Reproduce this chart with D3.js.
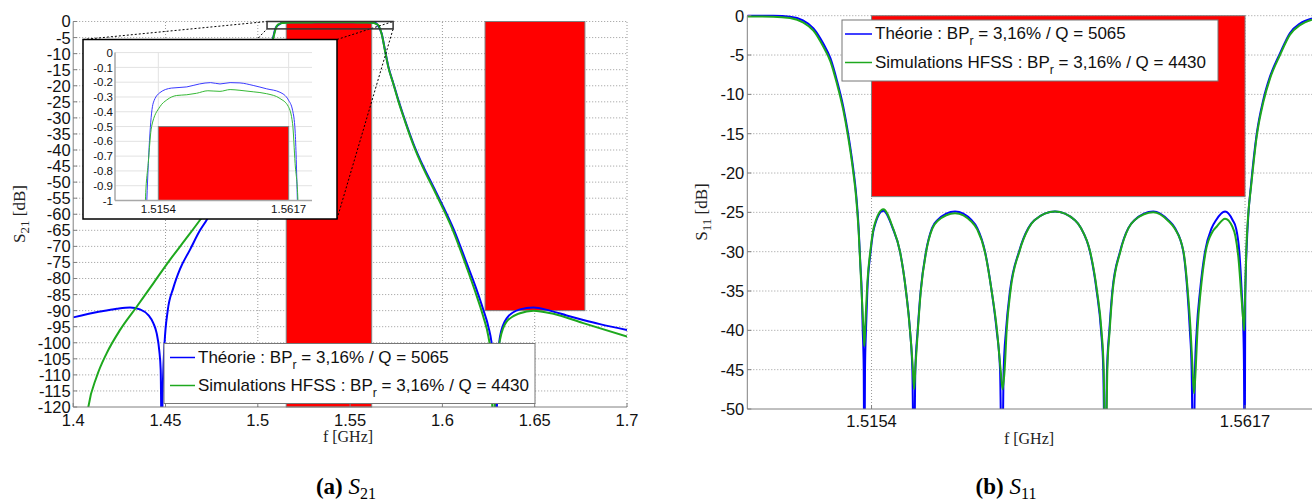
<!DOCTYPE html>
<html><head><meta charset="utf-8">
<script src="https://cdn.jsdelivr.net/npm/d3@7"></script>
<style>body{margin:0;background:#fff}svg{display:block}</style>
</head><body>
<svg id="c" width="1312" height="504"></svg>
<script>
// ---------------- DATA ----------------
const s21XTicks = [1.4, 1.45, 1.5, 1.55, 1.6, 1.65, 1.7];
const s21YTicks = [0,-5,-10,-15,-20,-25,-30,-35,-40,-45,-50,-55,-60,-65,-70,-75,-80,-85,-90,-95,-100,-105,-110,-115,-120];
const insetXTicks = [1.5154, 1.5617];
const insetYTicks = [0,-0.1,-0.2,-0.3,-0.4,-0.5,-0.6,-0.7,-0.8,-0.9,-1];
const s11XTicks = [1.5154, 1.5617];
const s11YTicks = [0,-5,-10,-15,-20,-25,-30,-35,-40,-45,-50];

// masks: [fStart, fEnd, dBtop, dBbottom]
const s21Masks = [[1.5154, 1.5617, 0, -120], [1.6231, 1.6772, 0, -90]];
const insetMask = [1.5154, 1.5617, -0.5, -1];
const s11Mask = [1.5154, 1.5617, 0, -23];
const zoomBox = [1.505, 1.5733, 0, -2.3];

const legendTheory = ["Théorie : BP", "r", " = 3,16% / Q = 5065"];
const legendHfss = ["Simulations HFSS : BP", "r", " = 3,16% / Q = 4430"];

// S21 theory [f GHz, dB]
const s21Theory = [
 [1.400,-92.1],[1.4145,-90.3],[1.4236,-89.4],[1.4308,-89.0],[1.4362,-89.6],[1.4407,-91.4],
 [1.4434,-93.9],[1.4452,-97.0],[1.4466,-102.3],[1.4474,-108.5],[1.4479,-130],[1.4486,-112],
 [1.4495,-100],[1.4512,-90],[1.4542,-83],[1.4579,-77],[1.4633,-71],[1.4687,-65],[1.4723,-61.8],
 [1.480,-54],[1.490,-42],[1.500,-26],[1.505,-13],[1.5083,-5],[1.5097,-2],[1.5113,-1.0],
 [1.5124,-0.55],[1.5136,-0.34],[1.5160,-0.27],[1.5200,-0.24],[1.5255,-0.232],[1.5300,-0.212],
 [1.5340,-0.203],[1.5373,-0.212],[1.5409,-0.203],[1.5444,-0.205],[1.5491,-0.222],[1.5539,-0.245],
 [1.5586,-0.268],[1.5616,-0.32],[1.5631,-0.39],[1.5640,-0.53],[1.5648,-1.0],[1.5671,-3.7],
 [1.5689,-8.9],[1.5707,-14.0],[1.5734,-19.2],[1.5761,-24.4],[1.5797,-30.7],[1.5842,-37.9],
 [1.5897,-45.2],[1.5951,-51.4],[1.6005,-57.7],[1.6059,-64.4],[1.6132,-75.3],[1.6186,-83.6],
 [1.6222,-89.8],[1.6249,-95.0],[1.6267,-100.2],[1.6280,-108],[1.6290,-130],[1.6300,-108],
 [1.6312,-98.1],[1.6348,-92.4],[1.6420,-89.6],[1.6493,-89.0],[1.6582,-90.0],[1.6673,-91.5],
 [1.6763,-92.9],[1.6853,-94.2],[1.700,-96.0]
];
// S21 HFSS simulation
const s21Hfss = [
 [1.4060,-130],[1.4082,-120],[1.4127,-110.6],[1.4181,-103.3],[1.4254,-96.0],[1.4344,-88.8],
 [1.4434,-81.5],[1.4524,-74.2],[1.4606,-68.0],[1.4687,-61.8],[1.480,-52.5],[1.490,-41.5],
 [1.500,-25.5],[1.505,-13],[1.5083,-5.3],[1.5097,-2.2],[1.5108,-1.0],[1.5118,-0.75],[1.5130,-0.5],
 [1.5160,-0.365],[1.5184,-0.32],[1.5219,-0.29],[1.5255,-0.285],[1.5290,-0.275],[1.5330,-0.258],
 [1.5373,-0.262],[1.5409,-0.25],[1.5444,-0.255],[1.5491,-0.265],[1.5539,-0.278],[1.5586,-0.31],
 [1.5616,-0.365],[1.5631,-0.48],[1.5640,-0.75],[1.5650,-1.0],[1.5671,-3.9],[1.5689,-9.1],
 [1.5707,-14.2],[1.5734,-19.4],[1.5761,-24.7],[1.5797,-31.0],[1.5842,-38.3],[1.5897,-45.7],
 [1.5951,-52.0],[1.6005,-58.4],[1.6059,-65.3],[1.6132,-76.6],[1.6186,-85.5],[1.6222,-92.0],
 [1.6249,-98.0],[1.6263,-104],[1.6276,-130],[1.6290,-108],[1.6312,-99.1],[1.6348,-93.4],
 [1.6420,-90.8],[1.6493,-90.0],[1.6601,-91.0],[1.6763,-93.9],[1.700,-98.1]
];
// S11 theory
const s11Theory = [
 [1.5000,0.0],[1.5032,-0.02],[1.5053,-0.13],[1.5069,-0.6],[1.5082,-1.6],[1.5094,-3.5],
 [1.5103,-5.4],[1.5111,-8.2],[1.5119,-11.6],[1.5125,-15.0],[1.5131,-19.2],[1.5135,-22.8],
 [1.5138,-27.0],[1.5140,-31.3],[1.5142,-35.5],[1.5143,-39.7],[1.51443,-44.8],[1.51451,-60],
 [1.51459,-45],[1.51471,-40],[1.51488,-35],[1.51529,-30],[1.51571,-27],[1.51686,-24.8],
 [1.51802,-27],[1.51893,-30],[1.51967,-35],[1.52017,-40],[1.52046,-45],[1.52066,-60],
 [1.52083,-45],[1.52112,-40],[1.52149,-35],[1.52215,-30],[1.52290,-27],[1.52356,-26],
 [1.52575,-24.9],[1.52781,-26],[1.52851,-27],[1.52947,-30],[1.53029,-35],[1.53091,-40],
 [1.53133,-45],[1.53157,-60],[1.53178,-45],[1.53207,-40],[1.53256,-35],[1.53368,-30],
 [1.53484,-27],[1.53558,-26],[1.53814,-24.9],[1.54062,-26],[1.54136,-27],[1.54248,-30],
 [1.54331,-35],[1.54385,-40],[1.54413,-45],[1.54434,-60],[1.54459,-45],[1.54488,-40],
 [1.54525,-35],[1.54620,-30],[1.54723,-27],[1.54798,-26],[1.55033,-24.9],[1.55219,-26],
 [1.55301,-27],[1.55405,-30],[1.55455,-35],[1.55486,-40],[1.55508,-45],[1.55529,-60],
 [1.55550,-45],[1.55571,-40],[1.55612,-35],[1.55674,-30],[1.55756,-27],[1.55810,-26],
 [1.55922,-24.9],[1.56017,-26],[1.56058,-27],[1.56099,-30],[1.56128,-35],[1.56149,-40],
 [1.56157,-45],[1.56165,-60],[1.56173,-35.5],[1.56191,-29.2],[1.56213,-25],[1.56244,-21.5],
 [1.56315,-15],[1.56396,-10.7],[1.56479,-7.75],[1.56603,-4.8],[1.56727,-2.2],[1.56851,-1.0],
 [1.5700,-0.35]
];
// S11 HFSS simulation
const s11Hfss = [
 [1.5000,-0.1],[1.5032,-0.12],[1.5053,-0.3],[1.5069,-0.85],[1.5082,-1.9],[1.5094,-3.9],
 [1.5103,-5.8],[1.5111,-8.6],[1.5119,-12.0],[1.5125,-15.4],[1.5131,-19.6],[1.5135,-23.2],
 [1.5138,-27.4],[1.5140,-31.5],[1.5142,-35.8],[1.51443,-40.5],[1.51451,-42],[1.51459,-40.5],
 [1.51471,-37.5],[1.51488,-34],[1.51529,-29.6],[1.51571,-26.8],[1.51686,-24.6],[1.51802,-26.9],
 [1.51893,-30],[1.51967,-35],[1.52017,-40],[1.52050,-44.5],[1.52068,-47.5],[1.52085,-44.5],
 [1.52114,-40],[1.52151,-35],[1.52217,-30],[1.52292,-27.1],[1.52358,-26.1],[1.52575,-25.1],
 [1.52781,-26.2],[1.52851,-27.2],[1.52947,-30.1],[1.53029,-35],[1.53095,-40],[1.53140,-45],
 [1.53165,-47.5],[1.53190,-45],[1.53215,-40],[1.53262,-35],[1.53372,-30],[1.53488,-27],
 [1.53560,-26],[1.53814,-24.9],[1.54062,-26],[1.54136,-27],[1.54250,-30],[1.54335,-35],
 [1.54390,-40],[1.54418,-45],[1.54440,-60],[1.54463,-45],[1.54492,-40],[1.54529,-35],
 [1.54624,-30],[1.54725,-27],[1.54800,-26],[1.55033,-25.0],[1.55219,-26.1],[1.55301,-27.1],
 [1.55407,-30],[1.55460,-35],[1.55495,-40],[1.55520,-45],[1.55538,-48],[1.55558,-45],
 [1.55580,-40],[1.55620,-35],[1.55682,-30],[1.55765,-27.5],[1.55820,-26.8],[1.55922,-25.8],
 [1.56012,-26.8],[1.56050,-28],[1.56090,-31],[1.56120,-35],[1.56150,-39],[1.56160,-40],
 [1.56170,-36],[1.56185,-30],[1.56210,-25.2],[1.56244,-21.8],[1.56315,-15.3],[1.56396,-11],
 [1.56479,-8],[1.56603,-5],[1.56727,-2.4],[1.56851,-1.2],[1.5700,-0.5]
];

// ---------------- DRAWING ----------------
const SANS = "'Liberation Sans', Arial, sans-serif";
const SERIF = "'Liberation Serif', 'Times New Roman', serif";
const BLUE = "#0000ff", GREEN = "#1ea81e", RED = "#ff0000";
const GRID = "#9a9a9a", AXIS = "#808080";
const svg = d3.select("#c");
const defs = svg.append("defs");

function clip(id, x, y, w, h) {
  defs.append("clipPath").attr("id", id).append("rect").attr("x", x).attr("y", y).attr("width", w).attr("height", h);
}
function dottedGrid(g, xs, ys, xScale, yScale) {
  const [x0, x1] = xScale.range(), [y0, y1] = yScale.range();
  g.selectAll(null).data(ys).join("line")
    .attr("x1", x0).attr("x2", x1).attr("y1", d => yScale(d)).attr("y2", d => yScale(d))
    .attr("stroke", GRID).attr("stroke-width", 1).attr("stroke-dasharray", "1,2");
  g.selectAll(null).data(xs).join("line")
    .attr("x1", d => xScale(d)).attr("x2", d => xScale(d)).attr("y1", y0).attr("y2", y1)
    .attr("stroke", GRID).attr("stroke-width", 1).attr("stroke-dasharray", "1,2");
}
function maskRect(g, m, xScale, yScale) {
  g.append("rect").attr("x", xScale(m[0])).attr("y", yScale(m[2]))
    .attr("width", xScale(m[1]) - xScale(m[0])).attr("height", yScale(m[3]) - yScale(m[2]))
    .attr("fill", RED).attr("stroke", "#808080").attr("stroke-width", 1);
}
function curve(g, data, xScale, yScale, color, w, clipId) {
  const line = d3.line().x(d => xScale(d[0])).y(d => yScale(d[1])).curve(d3.curveMonotoneX);
  g.append("path").attr("d", line(data)).attr("fill", "none").attr("stroke", color)
    .attr("stroke-width", w).attr("stroke-linejoin", "round").attr("clip-path", `url(#${clipId})`);
}
function axesLines(g, xScale, yScale, xs, ys, color, w, tick) {
  const [x0, x1] = xScale.range(), [y0, y1] = yScale.range();
  g.append("line").attr("x1", x0).attr("x2", x0).attr("y1", y0).attr("y2", y1).attr("stroke", color).attr("stroke-width", w);
  g.append("line").attr("x1", x0).attr("x2", x1).attr("y1", y0).attr("y2", y0).attr("stroke", color).attr("stroke-width", w);
  if (tick) {
    g.selectAll(null).data(xs).join("line").attr("x1", d => xScale(d)).attr("x2", d => xScale(d))
      .attr("y1", y0).attr("y2", y0 - tick).attr("stroke", color);
    g.selectAll(null).data(ys).join("line").attr("y1", d => yScale(d)).attr("y2", d => yScale(d))
      .attr("x1", x0).attr("x2", x0 + tick).attr("stroke", color);
  }
}
function tickLabels(g, xScale, yScale, xs, ys, fs, xfmt, yfmt, yOff, xGap) {
  const [x0] = xScale.range(), [y0] = yScale.range();
  g.selectAll(null).data(ys).join("text").attr("x", x0 - xGap).attr("y", d => yScale(d) + fs * 0.36)
    .attr("text-anchor", "end").attr("font-family", SANS).attr("font-size", fs).attr("fill", "#111").text(yfmt);
  g.selectAll(null).data(xs).join("text").attr("x", d => xScale(d)).attr("y", y0 + yOff)
    .attr("text-anchor", "middle").attr("font-family", SANS).attr("font-size", fs).attr("fill", "#111").text(xfmt);
}
function legend(g, x, y, w, h, rows, lineX0, lineX1, textX, fs) {
  g.append("rect").attr("x", x).attr("y", y).attr("width", w).attr("height", h)
    .attr("fill", "#fff").attr("stroke", "#777").attr("stroke-width", 1);
  rows.forEach(r => {
    g.append("line").attr("x1", lineX0).attr("x2", lineX1).attr("y1", r.y).attr("y2", r.y)
      .attr("stroke", r.color).attr("stroke-width", 1.5);
    const t = g.append("text").attr("x", textX).attr("y", r.y + 5).attr("font-family", SANS)
      .attr("font-size", fs).attr("fill", "#111");
    t.append("tspan").text(r.label[0]);
    t.append("tspan").attr("dy", 6).attr("font-size", fs * 0.72).text(r.label[1]);
    t.append("tspan").attr("dy", -6).text(r.label[2]);
  });
}
function yLabel(g, x, y, sub) {
  const t = g.append("text").attr("transform", `translate(${x},${y}) rotate(-90)`)
    .attr("text-anchor", "middle").attr("font-family", SERIF).attr("font-size", 17).attr("fill", "#222");
  t.append("tspan").text("S");
  t.append("tspan").attr("dy", 4).attr("font-size", 13).text(sub);
  t.append("tspan").attr("dy", -4).text(" [dB]");
}
function xLabel(g, x, y) {
  g.append("text").attr("x", x).attr("y", y).attr("text-anchor", "middle").attr("font-family", SERIF)
    .attr("font-size", 16).attr("fill", "#222").text("f [GHz]");
}
function caption(g, x, y, letter, sub) {
  const t = g.append("text").attr("x", x).attr("y", y).attr("text-anchor", "middle")
    .attr("font-family", SERIF).attr("font-size", 23).attr("fill", "#000");
  t.append("tspan").attr("font-weight", "bold").text(`(${letter}) `);
  t.append("tspan").attr("font-style", "italic").text("S");
  t.append("tspan").attr("dy", 5).attr("font-size", 16).text(sub);
}

// ===== Left panel: S21 =====
const xL = d3.scaleLinear().domain([1.4, 1.7]).range([73.2, 627]);
const yL = d3.scaleLinear().domain([-120, 0]).range([407, 21.5]);
const gL = svg.append("g");
clip("clipL", 73.2, 19, 553.8, 388);
dottedGrid(gL, s21XTicks.slice(1), s21YTicks.slice(0, -1), xL, yL);
s21Masks.forEach(m => maskRect(gL, m, xL, yL));
curve(gL, s21Theory, xL, yL, BLUE, 2, "clipL");
curve(gL, s21Hfss, xL, yL, GREEN, 2, "clipL");
axesLines(gL, xL, yL, s21XTicks, s21YTicks, AXIS, 1, 4);
tickLabels(gL, xL, yL, s21XTicks, s21YTicks, 16.5, d => String(d), d => String(d), 19, 2.5);
yLabel(gL, 25, 214, "21");
xLabel(gL, 348, 442);

// zoom box + connectors
const zb = { x0: xL(zoomBox[0]), x1: xL(zoomBox[1]), y0: yL(zoomBox[2]), y1: yL(zoomBox[3]) };
const ins = { x0: 83, y0: 39.5, x1: 337, y1: 219 };
const conn = [[ins.x0, ins.y0, zb.x0, zb.y0], [ins.x1, ins.y0, zb.x1, zb.y0], [ins.x1, ins.y1, zb.x1, zb.y1], [ins.x0, ins.y1, zb.x0, zb.y1]];
gL.selectAll(null).data(conn).join("line")
  .attr("x1", d => d[0]).attr("y1", d => d[1]).attr("x2", d => d[2]).attr("y2", d => d[3])
  .attr("stroke", "#000").attr("stroke-width", 1).attr("stroke-dasharray", "2,2");
gL.append("rect").attr("x", zb.x0).attr("y", zb.y0).attr("width", zb.x1 - zb.x0).attr("height", zb.y1 - zb.y0)
  .attr("fill", "none").attr("stroke", "#333").attr("stroke-width", 1.5);

// inset
const gI = svg.append("g");
gI.append("rect").attr("x", ins.x0).attr("y", ins.y0).attr("width", ins.x1 - ins.x0).attr("height", ins.y1 - ins.y0)
  .attr("fill", "#fff").attr("stroke", "#000").attr("stroke-width", 1.5);
const xI = d3.scaleLinear().domain([1.5, 1.57]).range([115, 312]);
const yI = d3.scaleLinear().domain([-1, 0]).range([200.5, 52.6]);
clip("clipI", 115, 50, 197, 150.5);
gI.selectAll(null).data(insetYTicks.slice(0, -1)).join("line")
  .attr("x1", 115).attr("x2", 312).attr("y1", d => yI(d)).attr("y2", d => yI(d)).attr("stroke", "#e2e2e2");
gI.selectAll(null).data(insetXTicks).join("line")
  .attr("x1", d => xI(d)).attr("x2", d => xI(d)).attr("y1", 52.6).attr("y2", 200.5).attr("stroke", "#e2e2e2");
maskRect(gI, insetMask, xI, yI);
curve(gI, s21Theory, xI, yI, "#3a3aff", 1, "clipI");
curve(gI, s21Hfss, xI, yI, "#35b835", 1, "clipI");
axesLines(gI, xI, yI, insetXTicks, insetYTicks, "#a8a8a8", 1.5, 0);
tickLabels(gI, xI, yI, insetXTicks, insetYTicks, 11.5, d => String(d), d => String(d), 12.5, 2);

legend(gL, 164, 343.5, 371, 60, [
  { y: 357.5, color: BLUE, label: legendTheory },
  { y: 385.5, color: GREEN, label: legendHfss }
], 170, 195, 198, 17);

// ===== Right panel: S11 =====
const xR = d3.scaleLinear().domain([1.5, 1.57]).range([747.3, 1312]);
const yR = d3.scaleLinear().domain([-50, 0]).range([409, 15.7]);
const gR = svg.append("g");
clip("clipR", 747.3, 13, 565, 396);
dottedGrid(gR, s11XTicks, s11YTicks.slice(0, -1), xR, yR);
maskRect(gR, s11Mask, xR, yR);
curve(gR, s11Theory, xR, yR, BLUE, 2, "clipR");
curve(gR, s11Hfss, xR, yR, GREEN, 2, "clipR");
axesLines(gR, xR, yR, s11XTicks, s11YTicks, AXIS, 1, 4);
tickLabels(gR, xR, yR, s11XTicks, s11YTicks, 16.5, d => String(d), d => String(d), 18, 3);
yLabel(gR, 707, 212, "11");
xLabel(gR, 1029, 444);
legend(gR, 842, 20, 376, 61, [
  { y: 34, color: BLUE, label: legendTheory },
  { y: 62.5, color: GREEN, label: legendHfss }
], 845, 872, 875, 17);

// captions
caption(svg, 346, 494, "a", "21");
caption(svg, 1006, 494, "b", "11");
</script>
</body></html>
